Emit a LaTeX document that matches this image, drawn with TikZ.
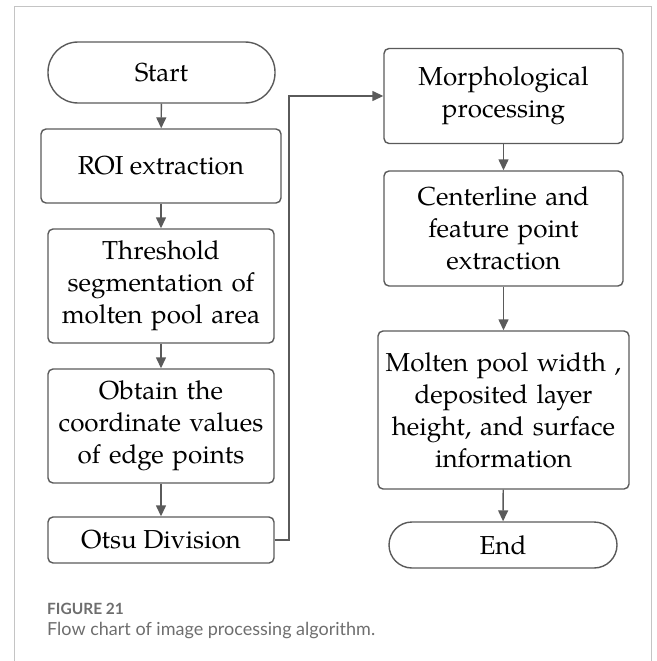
\documentclass[tikz,border=0pt]{standalone}
\usepackage{fontspec}
\setmainfont{TeX Gyre Pagella}
\newfontfamily\capfont{Lato}
\usetikzlibrary{arrows.meta}
\definecolor{linegray}{HTML}{5A5A5A}
\definecolor{framegray}{HTML}{C4C4C4}
\definecolor{capgray}{HTML}{6E6E6E}
\begin{document}
\begin{tikzpicture}[x=1pt,y=-1pt,
  box/.style={draw=linegray, line width=1.4pt, rounded corners=5pt, inner sep=0pt,
    align=center, font=\fontsize{26}{32}\selectfont, text=black},
  term/.style={box, rounded corners=#1},
  flow/.style={draw=linegray, line width=1.4pt, -{Triangle[length=11pt,width=10pt]}},
  captext/.style={anchor=base west, inner sep=0pt, text=capgray}]
\useasboundingbox (0,0) rectangle (656,661);
\draw[framegray, line width=0.9pt] (14,661) -- (14,6) -- (651,6) -- (651,661);

\node[term=30pt, minimum width=227pt, minimum height=61pt] (start) at (161.5,72.5) {Start};
\node[box, minimum width=240pt, minimum height=74pt] (roi) at (161,166) {ROI extraction};
\node[box, minimum width=226pt, minimum height=114pt, text width=220pt] (thr) at (161,286) {Threshold\\segmentation of\\molten pool area};
\node[box, minimum width=226pt, minimum height=114pt, text width=220pt] (obt) at (161,426) {Obtain the\\coordinate values\\of edge points};
\node[box, minimum width=226pt, minimum height=46pt] (otsu) at (161,540) {Otsu Division};

\node[box, minimum width=239pt, minimum height=95pt, text width=230pt] (morph) at (503.5,96) {Morphological\\processing};
\node[box, minimum width=239pt, minimum height=115pt, text width=230pt] (cent) at (503.5,228.5) {Centerline and\\feature point\\extraction};
\node[box, minimum width=251pt, minimum height=158pt, text width=246pt] (molt) at (503.5,410) {Molten pool width ,\\deposited layer\\height, and surface\\information};
\node[term=23pt, minimum width=228pt, minimum height=46pt] (end) at (503,545) {End};

\coordinate (bend) at (289,540);
\draw[flow] (start) -- (roi);
\draw[flow] (roi) -- (thr);
\draw[flow] (thr) -- (obt);
\draw[flow] (obt) -- (otsu);
\draw[flow] (otsu.east) -- (bend) |- (morph.west);
\draw[flow] (morph) -- (cent);
\draw[flow] (cent) -- (molt);
\draw[flow] (molt) -- (end);

\node[captext, font=\capfont\bfseries\fontsize{15.5}{18}\selectfont] (fig) at (47,614) {FIGURE 21};
\node[captext, font=\capfont\fontsize{18}{22}\selectfont] (caption) at (47,635) {Flow chart of image processing algorithm.};
\end{tikzpicture}
\end{document}
